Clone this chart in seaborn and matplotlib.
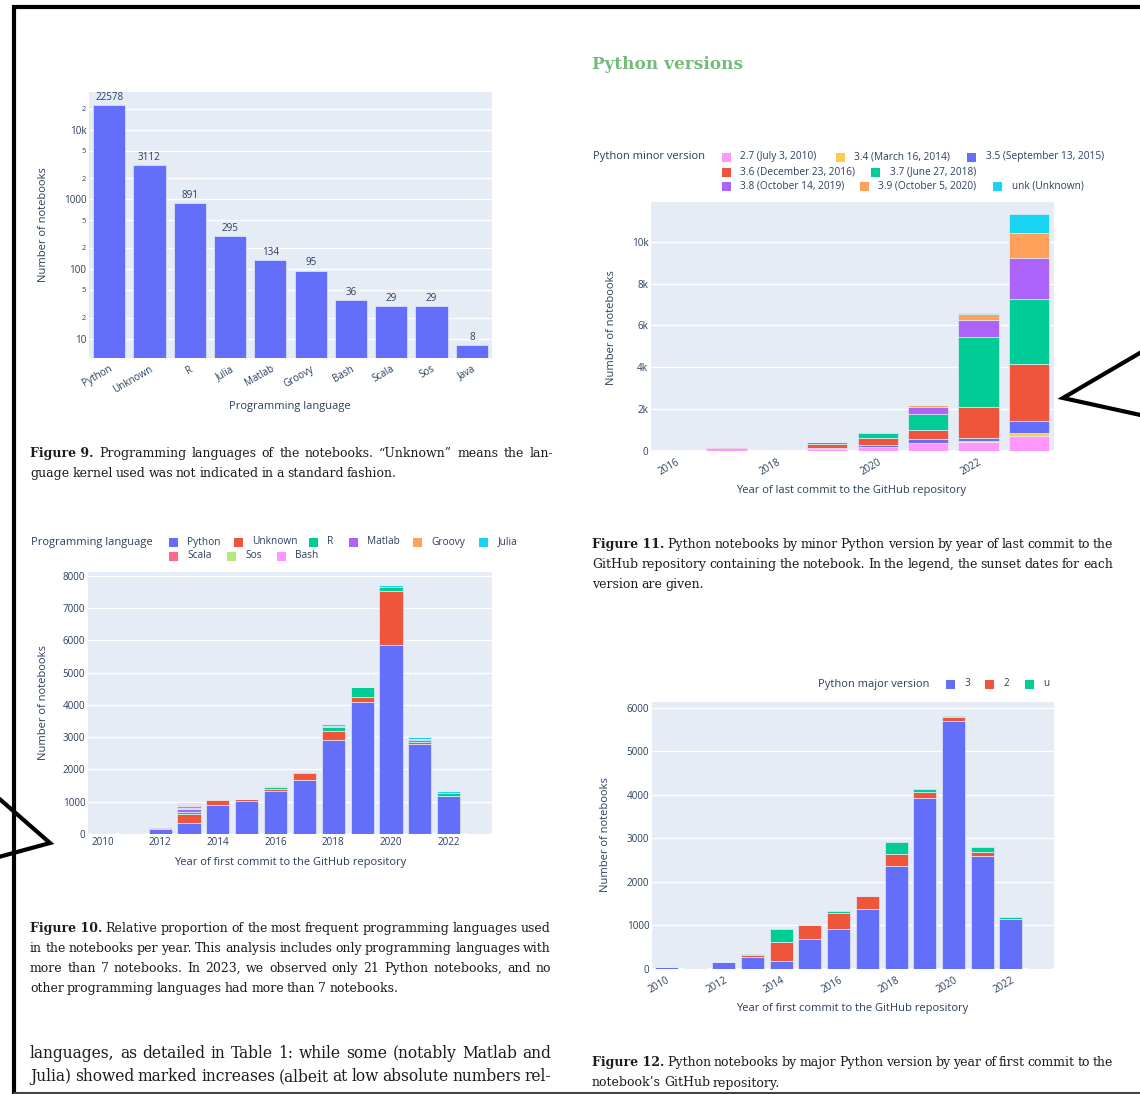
import matplotlib
matplotlib.use("Agg")
import statistics
import matplotlib.pyplot as plt
from matplotlib.patches import Rectangle
import pandas as pd
import seaborn as sns

# ---------------------------------------------------------------- data
# Figure 9: notebooks per programming language (log scale)
languages = ["Python", "Unknown", "R", "Julia", "Matlab", "Groovy", "Bash", "Scala", "Sos", "Java"]
language_totals = [22578, 3112, 891, 295, 134, 95, 36, 29, 29, 8]

# Figure 10: languages by year of first commit
first_years = [2010, 2011, 2012, 2013, 2014, 2015, 2016, 2017, 2018, 2019, 2020, 2021, 2022, 2023]
lang_stack = ["Python", "Unknown", "R", "Matlab", "Groovy", "Julia", "Scala", "Sos", "Bash"]
lang_python = [45, 20, 160, 340, 900, 1010, 1320, 1670, 2910, 4100, 5850, 2790, 1170, 21]
lang_unknown = [0, 0, 25, 290, 150, 70, 90, 210, 290, 150, 1680, 50, 15, 0]
lang_r = [0, 0, 5, 50, 10, 10, 50, 40, 120, 300, 130, 90, 95, 0]
lang_matlab = [0, 0, 0, 80, 5, 0, 5, 0, 15, 0, 0, 5, 0, 0]
lang_groovy = [0, 0, 0, 60, 5, 0, 0, 0, 0, 0, 0, 10, 0, 0]
lang_julia = [0, 0, 5, 40, 5, 0, 15, 15, 80, 20, 50, 70, 50, 0]
lang_scala = [0, 0, 10, 30, 0, 0, 0, 0, 10, 0, 0, 0, 0, 0]
lang_sos = [0, 0, 0, 40, 0, 5, 30, 0, 0, 0, 0, 0, 0, 0]
lang_bash = [0, 0, 10, 30, 0, 0, 0, 0, 0, 0, 0, 0, 0, 0]

# Figure 11: minor Python version by year of last commit
last_years = [2016, 2017, 2018, 2019, 2020, 2021, 2022, 2023]
minor_keys = ["2.7", "3.4", "3.5", "3.6", "3.7", "3.8", "3.9", "unk"]
minor_labels = ["2.7 (July 3, 2010)", "3.4 (March 16, 2014)", "3.5 (September 13, 2015)",
                "3.6 (December 23, 2016)", "3.7 (June 27, 2018)", "3.8 (October 14, 2019)",
                "3.9 (October 5, 2020)", "unk (Unknown)"]
minor_27 = [15, 130, 10, 110, 170, 380, 430, 720]
minor_34 = [0, 0, 0, 0, 10, 20, 30, 145]
minor_35 = [0, 30, 0, 30, 90, 190, 140, 575]
minor_36 = [0, 20, 5, 190, 330, 395, 1480, 2720]
minor_37 = [0, 0, 0, 80, 270, 795, 3360, 3120]
minor_38 = [0, 0, 0, 10, 20, 330, 800, 1920]
minor_39 = [0, 0, 0, 0, 10, 80, 320, 1230]
minor_unk = [0, 30, 0, 10, 10, 30, 40, 900]

# Figure 12: major Python version by year of first commit
major_keys = ["3", "2", "u"]
major_3 = [45, 25, 160, 275, 185, 700, 915, 1375, 2365, 3915, 5700, 2595, 1145, 21]
major_2 = [5, 0, 5, 45, 435, 300, 365, 305, 270, 155, 90, 85, 10, 0]
major_u = [0, 0, 0, 30, 305, 10, 60, 5, 275, 55, 20, 115, 35, 0]

# ---------------------------------------------------------------- style
W, H = 1140, 1094
PLOT_BG = "#E5ECF6"
INK = "#2a3f5f"
SANS = ["Open Sans", "DejaVu Sans"]
SERIF = "DejaVu Serif"
TEXT_DARK = "#1c1c1c"

PLOTLY = {"blue": "#636EFA", "red": "#EF553B", "green": "#00CC96", "purple": "#AB63FA",
          "orange": "#FFA15A", "cyan": "#19D3F3", "rose": "#FF6692", "lime": "#B6E880",
          "pink": "#FF97FF", "yellow": "#FECB52"}
lang_colors = dict(zip(lang_stack, [PLOTLY[c] for c in
                   ["blue", "red", "green", "purple", "orange", "cyan", "rose", "lime", "pink"]]))
minor_colors = dict(zip(minor_keys, [PLOTLY[c] for c in
                    ["pink", "yellow", "blue", "red", "green", "purple", "orange", "cyan"]]))
major_colors = dict(zip(major_keys, [PLOTLY["blue"], PLOTLY["red"], PLOTLY["green"]]))

sns.set_theme(style="white")
plt.rcParams["font.family"] = SANS

fig = plt.figure(figsize=(W / 100, H / 100), dpi=100)
fig.patch.set_facecolor("white")

# full-page layer in pixel units (y downwards) for text, legends and annotations
over = fig.add_axes([0, 0, 1, 1])
over.set_xlim(0, W)
over.set_ylim(H, 0)
over.axis("off")


def panel(x0, y0, x1, y1):
    return fig.add_axes([x0 / W, 1 - y1 / H, (x1 - x0) / W, (y1 - y0) / H])


def plotly_style(ax):
    ax.set_facecolor(PLOT_BG)
    for s in ax.spines.values():
        s.set_visible(False)
    ax.tick_params(length=0, colors=INK, labelsize=7.1, pad=2)
    ax.grid(axis="y", color="white", linewidth=1)
    ax.grid(axis="x", visible=False)
    ax.set_axisbelow(True)
    ax.set_xlabel("")
    ax.set_ylabel("")
    for lab in ax.get_xticklabels() + ax.get_yticklabels():
        lab.set_color(INK)


def axis_title(x, y, s, rotation=0):
    over.text(x, y, s, fontsize=8, color=INK, ha="center", va="center",
              rotation=rotation, family=SANS)


def legend_item(cx, cy, color, label):
    over.add_patch(Rectangle((cx - 4.5, cy - 4.5), 9, 9, facecolor=color, edgecolor="none"))
    over.text(cx + 14.5, cy, label, fontsize=7.3, color=INK, ha="left", va="center", family=SANS)


def legend_title(x, y, s):
    over.text(x, y, s, fontsize=8, color=INK, ha="left", va="center", family=SANS)


def long_frame(years, series, key):
    rows = []
    for name, values in series.items():
        for yr, v in zip(years, values):
            if v > 0:
                rows.append({"year": yr, key: name, "count": v})
    return pd.DataFrame(rows)


def stacked(ax, df, key, order, palette):
    # seaborn stacks the last hue level at the bottom, so hand it the order reversed
    sns.histplot(data=df, x="year", weights="count", hue=key, hue_order=order[::-1],
                 palette=palette, multiple="stack", discrete=True, shrink=0.8,
                 edgecolor=PLOT_BG, linewidth=0.5, alpha=1, legend=False, ax=ax)


# ---------------------------------------------------------------- Figure 9
ax9 = panel(89, 92, 492, 358)
sns.barplot(x=languages, y=language_totals, color=PLOTLY["blue"], saturation=1, width=0.8,
            edgecolor=PLOT_BG, linewidth=0.5, ax=ax9)
ax9.set_yscale("log")
ax9.set_ylim(5.27, 34700)
ax9.set_xlim(-0.5, len(languages) - 0.5)
log_ticks = [10, 20, 50, 100, 200, 500, 1000, 2000, 5000, 10000, 20000]
log_labels = ["10", "2", "5", "100", "2", "5", "1000", "2", "5", "10k", "2"]
ax9.yaxis.set_minor_locator(matplotlib.ticker.NullLocator())
ax9.set_yticks(log_ticks)
ax9.set_yticklabels(log_labels)
ax9.set_xticks(range(len(languages)))
ax9.set_xticklabels(languages, rotation=30, ha="right", rotation_mode="anchor")
plotly_style(ax9)
ax9.tick_params(axis="x", pad=4)
for lab, txt in zip(ax9.get_yticklabels(), log_labels):
    if txt in ("2", "5"):
        lab.set_fontsize(5.4)
ax9.bar_label(ax9.containers[0], labels=[str(v) for v in language_totals], padding=1.5,
              fontsize=7.1, color=INK, family=SANS)
axis_title(43, 225, "Number of notebooks", rotation=90)
axis_title(290, 407, "Programming language")

# ---------------------------------------------------------------- Figure 10
df10 = long_frame(first_years, dict(zip(lang_stack, [lang_python, lang_unknown, lang_r, lang_matlab,
                                                     lang_groovy, lang_julia, lang_scala, lang_sos,
                                                     lang_bash])), "language")
ax10 = panel(88, 572, 492, 834)
ax10.axhline(0, color="white", linewidth=2, zorder=0)
stacked(ax10, df10, "language", lang_stack, lang_colors)
ax10.set_xlim(2009.5, 2023.5)
ax10.set_ylim(0, 8124)
ax10.set_yticks(range(0, 8001, 1000))
ax10.set_xticks(range(2010, 2023, 2))
plotly_style(ax10)
axis_title(43, 703, "Number of notebooks", rotation=90)
axis_title(290, 862, "Year of first commit to the GitHub repository")
legend_title(31, 542, "Programming language")
for (cx, cy), name in zip([(173, 542), (238, 542), (313, 542), (353, 542), (417, 542), (483, 542),
                           (173, 556), (231, 556), (281, 556)], lang_stack):
    legend_item(cx, cy, lang_colors[name], name)

# ---------------------------------------------------------------- Figure 11
df11 = long_frame(last_years, dict(zip(minor_keys, [minor_27, minor_34, minor_35, minor_36,
                                                    minor_37, minor_38, minor_39, minor_unk])),
                  "version")
ax11 = panel(651, 202, 1054, 451)
ax11.axhline(0, color="white", linewidth=2, zorder=0)
stacked(ax11, df11, "version", minor_keys, minor_colors)
ax11.set_xlim(2015.5, 2023.5)
ax11.set_ylim(0, 11900)
ax11.set_yticks(range(0, 10001, 2000))
ax11.set_yticklabels(["0", "2k", "4k", "6k", "8k", "10k"])
ax11.set_xticks(range(2016, 2023, 2))
ax11.set_xticklabels([str(y) for y in range(2016, 2023, 2)], rotation=30, ha="right",
                     rotation_mode="anchor")
plotly_style(ax11)
ax11.tick_params(axis="x", pad=4)
axis_title(611, 328, "Number of notebooks", rotation=90)
axis_title(851, 490, "Year of last commit to the GitHub repository")
legend_title(593, 157, "Python minor version")
for (cx, cy), key, label in zip([(726, 157), (840, 157), (971, 157), (726, 172), (875, 172),
                                 (726, 186), (864, 186), (997, 186)], minor_keys, minor_labels):
    legend_item(cx, cy, minor_colors[key], label)

# ---------------------------------------------------------------- Figure 12
df12 = long_frame(first_years, dict(zip(major_keys, [major_3, major_2, major_u])), "major")
ax12 = panel(652, 702, 1054, 969)
ax12.axhline(0, color="white", linewidth=2, zorder=0)
stacked(ax12, df12, "major", major_keys, major_colors)
ax12.set_xlim(2009.5, 2023.5)
ax12.set_ylim(0, 6128)
ax12.set_yticks(range(0, 6001, 1000))
ax12.set_xticks(range(2010, 2023, 2))
ax12.set_xticklabels([str(y) for y in range(2010, 2023, 2)], rotation=30, ha="right",
                     rotation_mode="anchor")
plotly_style(ax12)
ax12.tick_params(axis="x", pad=4)
axis_title(605, 835, "Number of notebooks", rotation=90)
axis_title(852, 1008, "Year of first commit to the GitHub repository")
legend_title(818, 684, "Python major version")
for cx, key in zip([950, 989, 1029], major_keys):
    legend_item(cx, 684, major_colors[key], key)

# ---------------------------------------------------------------- page text
renderer = fig.canvas.get_renderer()
PX_PER_PT = 100 / 72
SPACE_EM = 0.24          # word space used for the captions, as a fraction of the font size


def ink_width(s, size, weight="normal"):
    t = fig.text(0, 0, s, fontsize=size, family=SERIF, fontweight=weight)
    w = t.get_window_extent(renderer).width
    t.remove()
    return w


def pieces_of(line, bold_words):
    words = line.split()
    out = []
    if bold_words:
        out.append((" ".join(words[:bold_words]), "bold"))
    out += [(w, "normal") for w in words[bold_words:]]
    return out


def fit_size(line, width, bold_words):
    pieces = pieces_of(line, bold_words)
    letters10 = sum(ink_width(w, 10, wt) for w, wt in pieces)
    gaps = len(pieces) - 1
    return width / (letters10 / 10 + gaps * SPACE_EM * PX_PER_PT)


def paragraph(x, baseline0, lines, width, size, dy, bold_words=0):
    natural_gap = SPACE_EM * size * PX_PER_PT
    for i, line in enumerate(lines):
        pieces = pieces_of(line, bold_words if i == 0 else 0)
        widths = [ink_width(w, size, wt) for w, wt in pieces]
        justify = i < len(lines) - 1 and len(pieces) > 1
        gap = (width - sum(widths)) / (len(pieces) - 1) if justify else natural_gap
        cx = x
        for (w, wt), ww in zip(pieces, widths):
            over.text(cx, baseline0 + i * dy, w, fontsize=size, family=SERIF, fontweight=wt,
                      color=TEXT_DARK, ha="left", va="baseline")
            cx += ww + gap


cap9 = ["Figure 9. Programming languages of the notebooks. \u201cUnknown\u201d means the lan-",
        "guage kernel used was not indicated in a standard fashion."]
cap10 = ["Figure 10. Relative proportion of the most frequent programming languages used",
         "in the notebooks per year. This analysis includes only programming languages with",
         "more than 7 notebooks.  In 2023, we observed only 21 Python notebooks, and no",
         "other programming languages had more than 7 notebooks."]
cap11 = ["Figure 11. Python notebooks by minor Python version by year of last commit to the",
         "GitHub repository containing the notebook. In the legend, the sunset dates for each",
         "version are given."]
cap12 = ["Figure 12. Python notebooks by major Python version by year of first commit to the",
         "notebook\u2019s GitHub repository."]
body = ["languages, as detailed in Table 1: while some (notably Matlab and",
        "Julia) showed marked increases (albeit at low absolute numbers rel-"]

# one size for every figure caption: the median fit of the justified caption lines
full_lines = [(cap9[0], 2), (cap10[0], 2), (cap10[1], 0), (cap10[2], 0), (cap11[0], 2),
              (cap11[1], 0), (cap12[0], 2)]
cap_size = statistics.median(fit_size(s, 521, b) for s, b in full_lines)
body_size = statistics.mean(fit_size(s, 521, 0) for s in body)

paragraph(30, 457, cap9, 523, cap_size, 20, bold_words=2)
paragraph(30, 932, cap10, 521, cap_size, 20, bold_words=2)
paragraph(592, 548, cap11, 521, cap_size, 20, bold_words=2)
paragraph(592, 1066, cap12, 521, cap_size, 20.5, bold_words=2)
paragraph(30, 1058, body, 521, body_size, 23)

heading_size = 10 * 151 / ink_width("Python versions", 10, "bold")
over.text(592, 69, "Python versions", fontsize=heading_size, family=SERIF, fontweight="bold",
          color="#74bb7b", ha="left", va="baseline")

# page frame and call-out marks
over.plot([12, W + 5], [6.5, 6.5], color="black", linewidth=3, solid_capstyle="butt")
over.plot([14, 14], [5, H + 5], color="black", linewidth=3, solid_capstyle="butt")
over.plot([14, W + 5], [1093, 1093], color="#444444", linewidth=1.5)
over.plot([W + 5, 1063, W + 5], [350, 398, 416], color="black", linewidth=3,
          solid_joinstyle="miter")
over.plot([-5, 50, -5], [795, 843, 858], color="black", linewidth=3, solid_joinstyle="miter")

fig.savefig("out.png", dpi=100, facecolor="white")
